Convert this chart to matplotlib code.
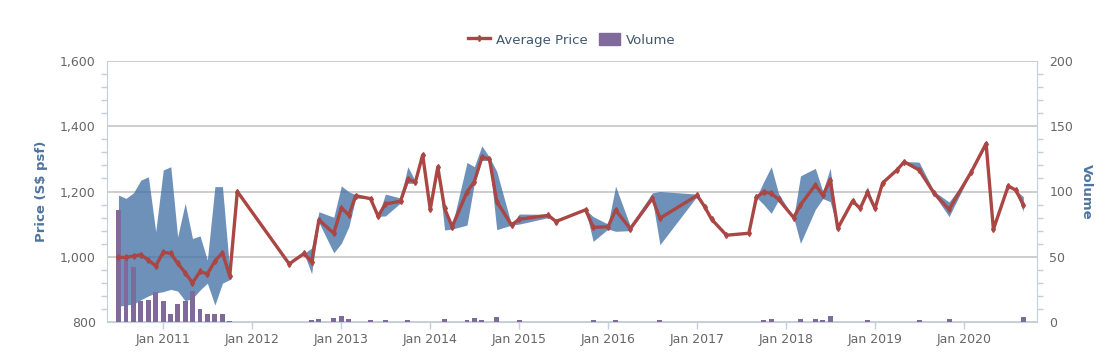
import numpy as np
import matplotlib
matplotlib.use("Agg")
import matplotlib.pyplot as plt
import matplotlib.dates as mdates
from matplotlib.lines import Line2D
from matplotlib.patches import Patch
from matplotlib.ticker import MultipleLocator, FuncFormatter

# month of each transaction record
months = [
    "2010-07", "2010-08", "2010-09", "2010-10", "2010-11", "2010-12",
    "2011-01", "2011-02", "2011-03", "2011-04", "2011-05", "2011-06",
    "2011-07", "2011-08", "2011-09", "2011-10", "2011-11",
    "2012-06", "2012-08", "2012-09", "2012-10", "2012-12",
    "2013-01", "2013-02", "2013-03", "2013-05", "2013-06", "2013-07",
    "2013-09", "2013-10", "2013-11", "2013-12",
    "2014-01", "2014-02", "2014-03", "2014-04", "2014-06", "2014-07",
    "2014-08", "2014-09", "2014-10", "2014-12",
    "2015-01", "2015-05", "2015-06", "2015-10", "2015-11",
    "2016-01", "2016-02", "2016-04", "2016-07", "2016-08",
    "2017-01", "2017-02", "2017-03", "2017-05", "2017-08", "2017-09",
    "2017-10", "2017-11", "2017-12",
    "2018-02", "2018-03", "2018-05", "2018-06", "2018-07", "2018-08",
    "2018-10", "2018-11", "2018-12",
    "2019-01", "2019-02", "2019-04", "2019-05", "2019-07", "2019-09",
    "2019-11",
    "2020-02", "2020-04", "2020-05", "2020-07", "2020-08", "2020-09",
]

avg_price = [
    998, 998, 1002, 1006, 990, 972,
    1014, 1010, 980, 951, 920, 955,
    947, 987, 1012, 941, 1200,
    978, 1010, 984, 1113, 1072,
    1150, 1128, 1187, 1178, 1124, 1162,
    1170, 1238, 1229, 1312,
    1145, 1275, 1148, 1092, 1199, 1230,
    1305, 1300, 1169, 1097,
    1115, 1127, 1108, 1144, 1090,
    1092, 1143, 1086, 1179, 1118,
    1188, 1153, 1115, 1066, 1072, 1182,
    1199, 1194, 1176,
    1120, 1159, 1220, 1188, 1236, 1087,
    1171, 1148, 1197,
    1148, 1226, 1266, 1291, 1266, 1194,
    1145,
    1261, 1347, 1084, 1217, 1204, 1159,
]

price_low = [
    848, 852, 855, 868, 880, 889,
    893, 900, 895, 865, 872, 898,
    919, 852, 919, 930, 1200,
    978, 1010, 948, 1105, 1012,
    1041, 1092, 1180, 1178, 1124, 1125,
    1165, 1225, 1225, 1312,
    1145, 1275, 1082, 1085, 1097, 1225,
    1295, 1295, 1083, 1097,
    1100, 1120, 1108, 1144, 1047,
    1085, 1078, 1080, 1175, 1037,
    1186, 1153, 1115, 1066, 1072, 1182,
    1160, 1133, 1174,
    1120, 1041, 1145, 1178, 1169, 1087,
    1171, 1148, 1195,
    1148, 1226, 1266, 1288, 1262, 1190,
    1123,
    1261, 1340, 1084, 1217, 1204, 1138,
]

price_high = [
    1189, 1179, 1196, 1235, 1245, 1077,
    1266, 1276, 1061, 1164, 1056, 1064,
    990, 1215, 1215, 955, 1200,
    978, 1010, 1027, 1138, 1121,
    1217, 1199, 1190, 1178, 1124, 1192,
    1180, 1276, 1232, 1312,
    1145, 1275, 1150, 1095, 1289, 1276,
    1340, 1305, 1262, 1097,
    1131, 1130, 1108, 1144, 1123,
    1100, 1216, 1095, 1196, 1200,
    1192, 1153, 1115, 1066, 1072, 1182,
    1230, 1276, 1194,
    1120, 1248, 1271, 1200, 1272, 1087,
    1171, 1148, 1215,
    1148, 1226, 1266, 1292, 1290, 1200,
    1168,
    1261, 1355, 1084, 1217, 1204, 1184,
]

volume = [
    86, 47.5, 42, 16, 16.5, 23,
    16, 6, 14, 16, 24, 10,
    6, 6, 6, 1, 0,
    0, 0, 1.5, 2, 3,
    4.5, 2.3, 0, 1.5, 0, 1.5,
    0, 1.5, 0, 0,
    0, 0, 2.5, 0, 1.5, 3,
    1.5, 0, 3.5, 0,
    1.5, 0, 0, 0, 1.5,
    0, 1.5, 0, 0, 1.5,
    0, 0, 0, 0, 0, 0,
    1.5, 2.5, 0,
    0, 2.5, 2.5, 1.5, 4.5, 0,
    0, 0, 1.5,
    0, 0, 0, 0, 1.5, 0,
    2.5,
    0, 0, 0, 0, 0, 3.5,
]

year_ticks = [str(y) for y in range(2011, 2021)]

LINE_C = "#AA4643"
BAND_C = "#4572A7"
VOL_C = "#80699B"
AXIS_C = "#C0D0E0"
GRID_C = "#C0C0C0"
LABEL_C = "#666666"
TITLE_C = "#4D759E"

dates = np.array(months, dtype="datetime64[M]").astype("datetime64[D]")
x = mdates.date2num(dates)

fig = plt.figure(figsize=(11.11, 3.64), dpi=100)
pos = [107 / 1111, 1 - 322 / 364, (1037 - 107) / 1111, (322 - 61) / 364]

ax = fig.add_axes(pos)
ax_vol = ax.twinx()
ax_line = fig.add_axes(pos, sharex=ax, sharey=ax)
ax_line.axis("off")

# price range band
ax.fill_between(x, price_low, price_high, color=BAND_C, alpha=0.78, lw=0, zorder=2)

# volume columns
ax_vol.bar(x, volume, width=20, color=VOL_C, lw=0, zorder=2)

# average price line
ax_line.plot(x, avg_price, color=LINE_C, lw=2.4, marker="d", ms=3,
             mec=LINE_C, mfc=LINE_C, zorder=3)

xmin = mdates.date2num(np.datetime64("2010-05-15"))
xmax = mdates.date2num(np.datetime64("2020-10-27"))
ax.set_xlim(xmin, xmax)
ax.set_ylim(800, 1600)
ax_vol.set_ylim(0, 200)

ax.set_xticks(mdates.date2num(np.array([y + "-01-01" for y in year_ticks], dtype="datetime64[D]")))
ax.set_xticklabels(["Jan " + y for y in year_ticks])

ax.yaxis.set_major_locator(MultipleLocator(200))
ax.yaxis.set_minor_locator(MultipleLocator(40))
ax.yaxis.set_major_formatter(FuncFormatter(lambda v, p: f"{int(v):,}"))
ax_vol.yaxis.set_major_locator(MultipleLocator(50))
ax_vol.yaxis.set_minor_locator(MultipleLocator(10))

ax.grid(axis="y", color=GRID_C, lw=1.1, zorder=0)
ax.set_axisbelow(True)

for a in (ax, ax_vol):
    for s in a.spines.values():
        s.set_visible(False)
ax.spines["left"].set_visible(True)
ax.spines["left"].set_color(AXIS_C)
ax.spines["bottom"].set_visible(True)
ax.spines["bottom"].set_color(AXIS_C)
ax_vol.spines["right"].set_visible(True)
ax_vol.spines["right"].set_color(AXIS_C)

ax.tick_params(axis="x", colors=AXIS_C, length=5, width=1, labelcolor=LABEL_C,
               labelsize=9, pad=3)
ax.tick_params(axis="y", which="major", colors=AXIS_C, length=0, labelcolor=LABEL_C,
               labelsize=9, pad=8)
ax.tick_params(axis="y", which="minor", colors=AXIS_C, length=4, width=1)
ax_vol.tick_params(axis="y", which="major", colors=AXIS_C, length=0, labelcolor=LABEL_C,
                   labelsize=9, pad=9)
ax_vol.tick_params(axis="y", which="minor", colors=AXIS_C, length=4, width=1)

ax.set_ylabel("Price (S$ psf)", color=TITLE_C, fontsize=9.5, fontweight="bold", labelpad=9)
ax_vol.set_ylabel("Volume", color=TITLE_C, fontsize=9.5, fontweight="bold",
                  rotation=270, labelpad=14)

handles = [
    Line2D([], [], color=LINE_C, lw=2.4, marker="d", ms=3),
    Patch(facecolor=VOL_C, edgecolor=VOL_C),
]
fig.legend(handles, ["Average Price", "Volume"], loc="center",
           bbox_to_anchor=(0.515, 1 - 40 / 364), ncol=2, frameon=False,
           fontsize=9.5, labelcolor="#3E576F", handlelength=1.6,
           handleheight=1.0, columnspacing=0.8, handletextpad=0.5)

fig.savefig("out.png", dpi=100)
